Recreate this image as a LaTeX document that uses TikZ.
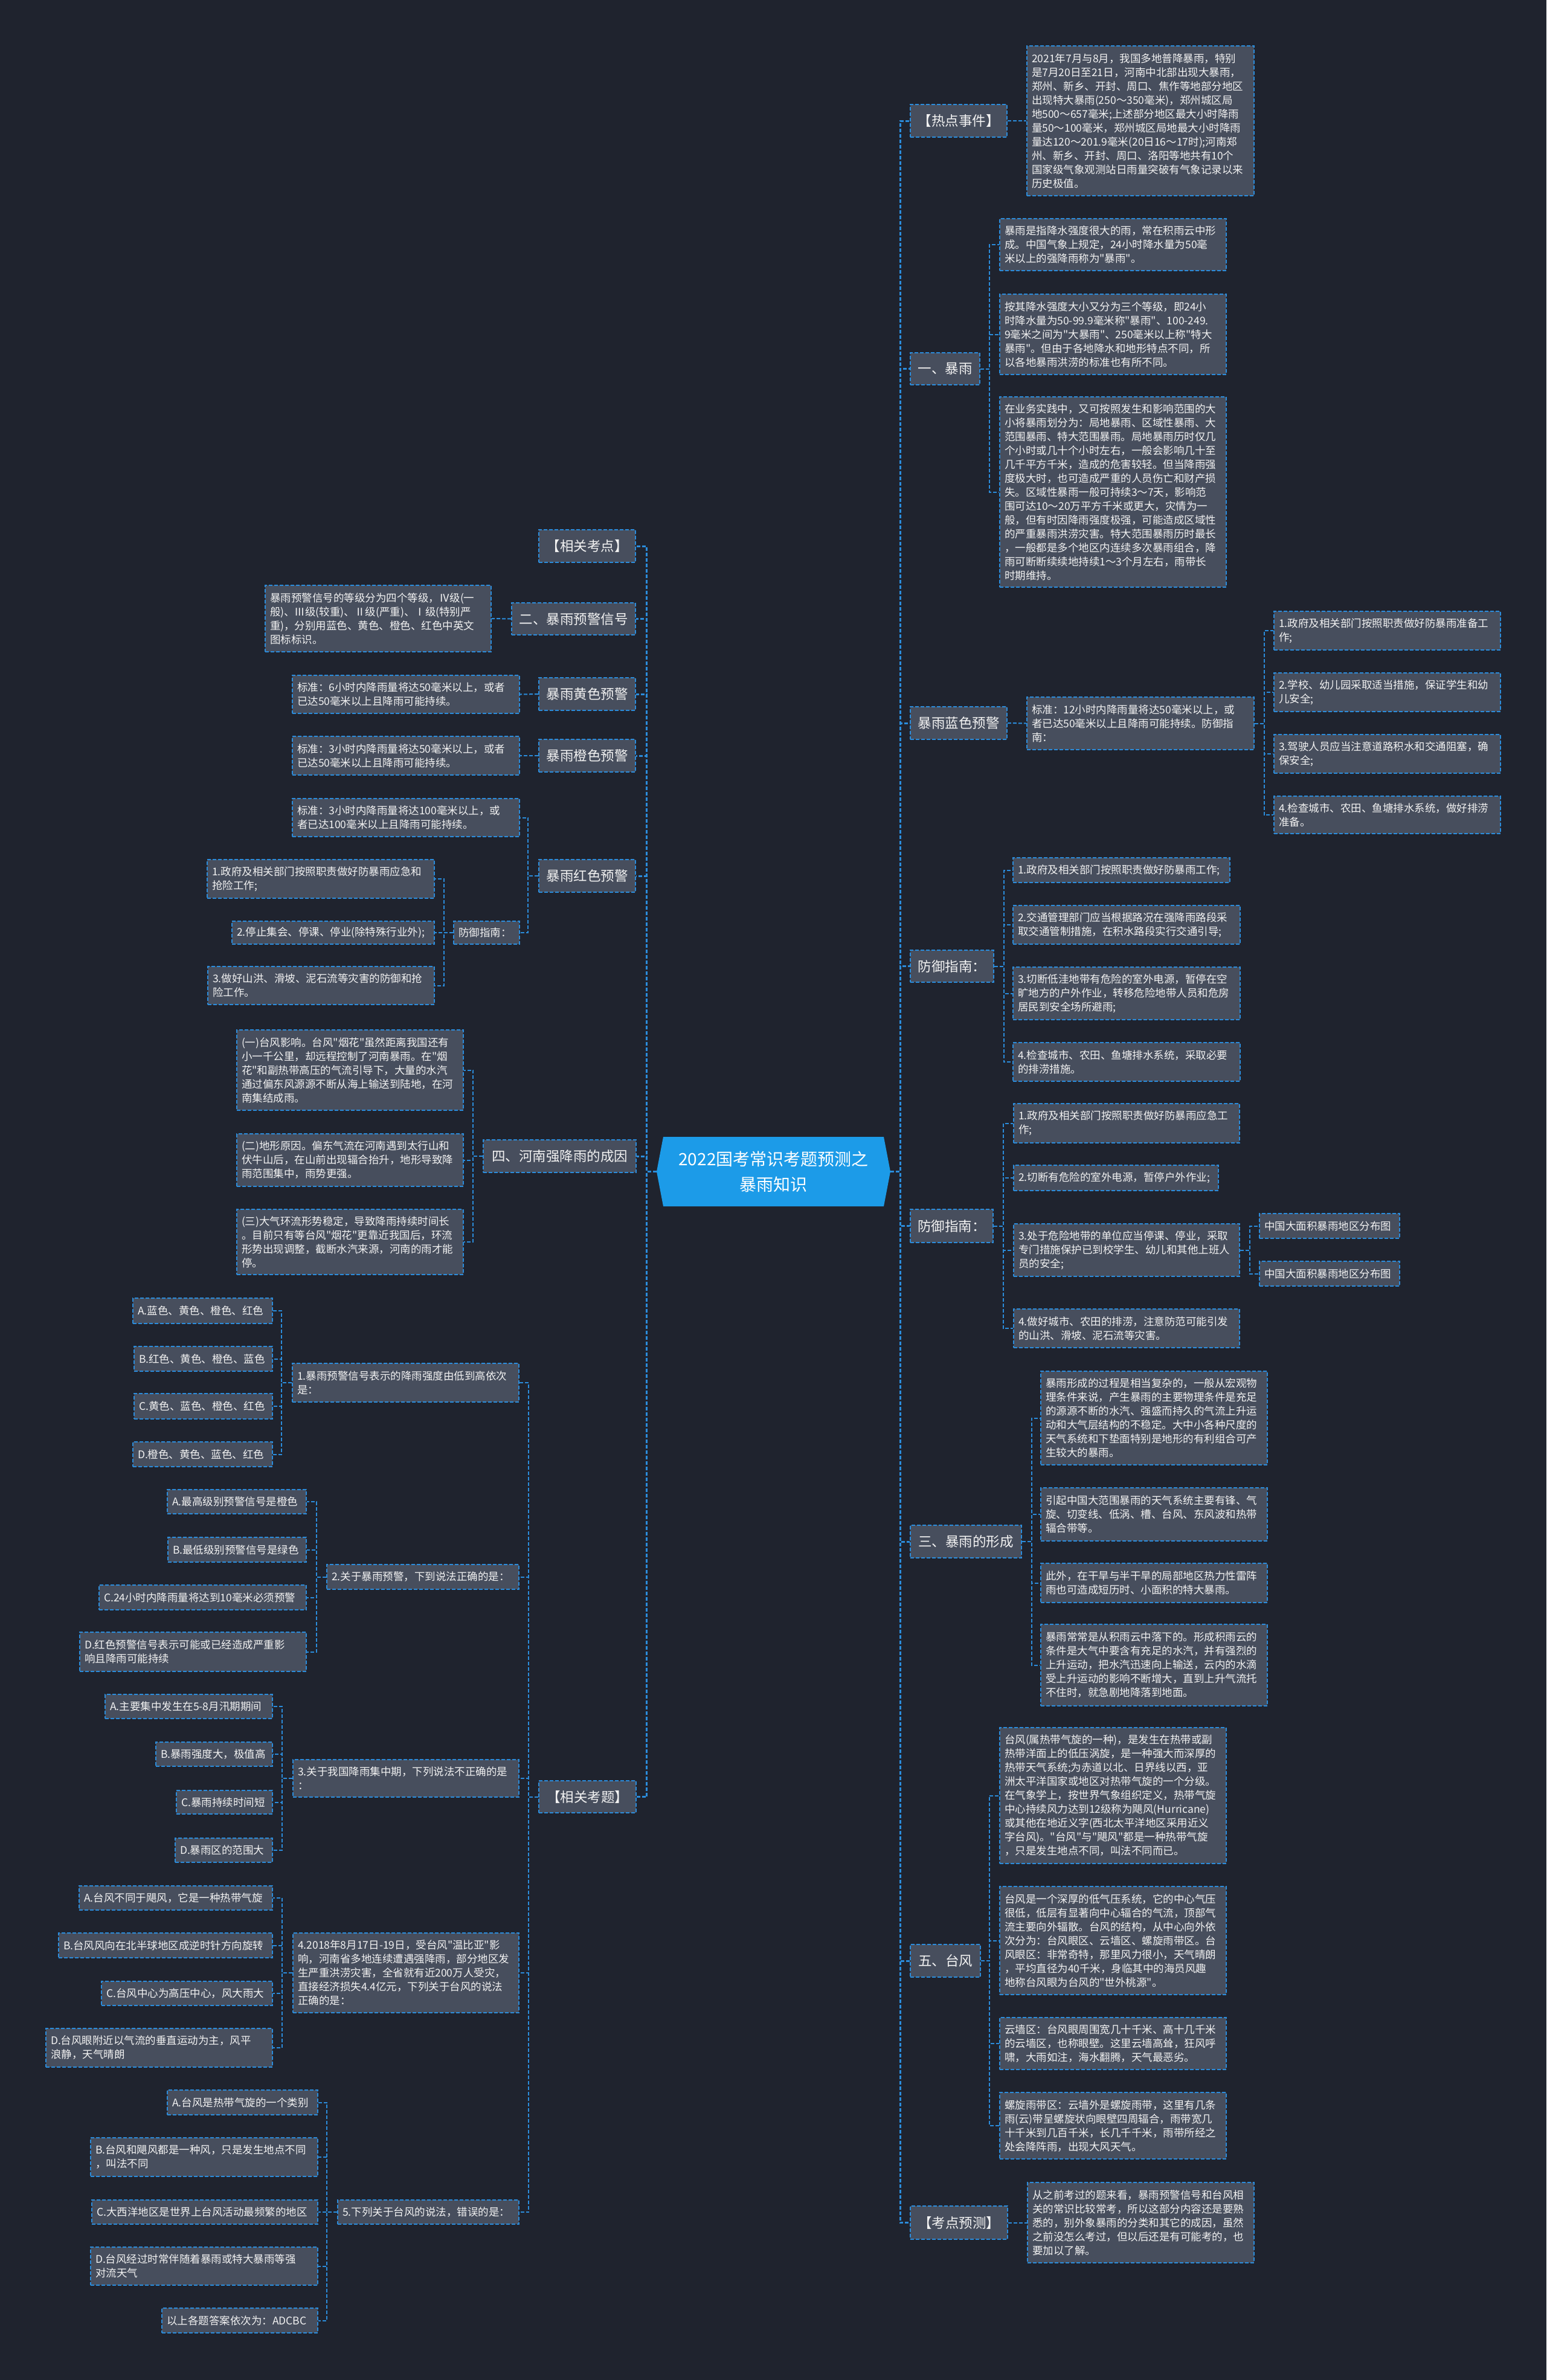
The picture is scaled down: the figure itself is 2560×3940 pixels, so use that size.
\documentclass[tikz,border=0pt]{standalone}
\usepackage{fontspec}
\newfontfamily\cjkf{Noto Sans CJK SC}
\definecolor{bgc}{HTML}{1F232E}
\definecolor{boxf}{HTML}{474E5D}
\definecolor{lineb}{HTML}{2B8CDB}
\definecolor{rootb}{HTML}{1C9BE8}
\definecolor{txt}{HTML}{F2F2F2}
\tikzset{
  boxbase/.style={fill=boxf, draw=lineb, line width=1.8pt, dash pattern=on 6pt off 3pt, text=txt, inner ysep=0pt, inner xsep=8pt, anchor=center},
  leaf/.style={boxbase, font=\cjkf\fontsize{17.5}{23}\selectfont, align=left},
  lone/.style={boxbase, font=\cjkf\fontsize{22.5}{28}\selectfont, align=center},
  conn/.style={draw=lineb, line width=2pt, dash pattern=on 6pt off 3pt},
  trunk/.style={conn, line width=3pt},
  rootstyle/.style={text=white, font=\cjkf\fontsize{28}{42}\selectfont, align=center, inner sep=0pt, minimum width=387pt, minimum height=115pt},
}
% style, name, x1, y1, x2, y2, text
\newcommand\bx[7]{%
  \pgfmathsetmacro\bxw{#5-#3}%
  \pgfmathsetmacro\bxh{#6-#4}%
  \pgfmathsetmacro\bxt{#5-#3-16}%
  \pgfmathsetmacro\bxcx{(#3+#5)/2}%
  \pgfmathsetmacro\bxcy{(#4+#6)/2}%
  \node[#1, minimum width=\bxw pt, minimum height=\bxh pt, text width=\bxt pt] (#2) at (\bxcx,\bxcy) {#7};}
\begin{document}
\begin{tikzpicture}[x=1pt,y=-1pt]
\useasboundingbox (0,0) rectangle (2560,3940);
\fill[bgc] (0,0) rectangle (2560,3940);

% root
\fill[rootb] (1098,1882) -- (1463,1882) -- (1474,1939.5) -- (1463,1997) -- (1098,1997) -- (1087,1939.5) -- cycle;
\node[rootstyle] (root) at (1280.5,1939.5) {2022国考常识考题预测之\\暴雨知识};

% ---------------- right side ----------------
\bx{lone}{hot}{1507}{173}{1667}{227}{【热点事件】}
\bx{leaf}{hott}{1700}{76}{2076}{324}{2021年7月与8月，我国多地普降暴雨，特别\\是7月20日至21日，河南中北部出现大暴雨，\\郑州、新乡、开封、周口、焦作等地部分地区\\出现特大暴雨(250～350毫米)，郑州城区局\\地500～657毫米;上述部分地区最大小时降雨\\量50～100毫米，郑州城区局地最大小时降雨\\量达120～201.9毫米(20日16～17时);河南郑\\州、新乡、开封、周口、洛阳等地共有10个\\国家级气象观测站日雨量突破有气象记录以来\\历史极值。}

\bx{lone}{by}{1507}{584}{1622}{637}{一、暴雨}
\bx{leaf}{by1}{1655}{362}{2030}{448}{暴雨是指降水强度很大的雨，常在积雨云中形\\成。中国气象上规定，24小时降水量为50毫\\米以上的强降雨称为"暴雨"。}
\bx{leaf}{by2}{1655}{487}{2030}{620}{按其降水强度大小又分为三个等级，即24小\\时降水量为50-99.9毫米称"暴雨"、100-249.\\9毫米之间为"大暴雨"、250毫米以上称"特大\\暴雨"。但由于各地降水和地形特点不同，所\\以各地暴雨洪涝的标准也有所不同。}
\bx{leaf}{by3}{1655}{657}{2030}{972}{在业务实践中，又可按照发生和影响范围的大\\小将暴雨划分为：局地暴雨、区域性暴雨、大\\范围暴雨、特大范围暴雨。局地暴雨历时仅几\\个小时或几十个小时左右，一般会影响几十至\\几千平方千米，造成的危害较轻。但当降雨强\\度极大时，也可造成严重的人员伤亡和财产损\\失。区域性暴雨一般可持续3～7天，影响范\\围可达10～20万平方千米或更大，灾情为一\\般，但有时因降雨强度极强，可能造成区域性\\的严重暴雨洪涝灾害。特大范围暴雨历时最长\\，一般都是多个地区内连续多次暴雨组合，降\\雨可断断续续地持续1～3个月左右，雨带长\\时期维持。}

\bx{lone}{blue}{1507}{1170}{1667}{1224}{暴雨蓝色预警}
\bx{leaf}{bluet}{1700}{1154}{2076}{1241}{标准：12小时内降雨量将达50毫米以上，或\\者已达50毫米以上且降雨可能持续。防御指\\南：}
\bx{leaf}{blue1}{2109}{1012}{2484}{1076}{1.政府及相关部门按照职责做好防暴雨准备工\\作;}
\bx{leaf}{blue2}{2109}{1114}{2484}{1178}{2.学校、幼儿园采取适当措施，保证学生和幼\\儿安全;}
\bx{leaf}{blue3}{2109}{1216}{2484}{1280}{3.驾驶人员应当注意道路积水和交通阻塞，确\\保安全;}
\bx{leaf}{blue4}{2109}{1318}{2484}{1380}{4.检查城市、农田、鱼塘排水系统，做好排涝\\准备。}

\bx{lone}{fya}{1507}{1573}{1645}{1626}{防御指南：}
\bx{leaf}{fya1}{1677}{1420}{2036}{1461}{1.政府及相关部门按照职责做好防暴雨工作;}
\bx{leaf}{fya2}{1677}{1499}{2053}{1563}{2.交通管理部门应当根据路况在强降雨路段采\\取交通管制措施，在积水路段实行交通引导;}
\bx{leaf}{fya3}{1677}{1601}{2053}{1688}{3.切断低洼地带有危险的室外电源，暂停在空\\旷地方的户外作业，转移危险地带人员和危房\\居民到安全场所避雨;}
\bx{leaf}{fya4}{1677}{1726}{2053}{1790}{4.检查城市、农田、鱼塘排水系统，采取必要\\的排涝措施。}

\bx{lone}{fyb}{1507}{2002}{1644}{2057}{防御指南：}
\bx{leaf}{fyb1}{1678}{1827}{2052}{1892}{1.政府及相关部门按照职责做好防暴雨应急工\\作;}
\bx{leaf}{fyb2}{1678}{1929}{2017}{1971}{2.切断有危险的室外电源，暂停户外作业;}
\bx{leaf}{fyb3}{1678}{2026}{2052}{2113}{3.处于危险地带的单位应当停课、停业，采取\\专门措施保护已到校学生、幼儿和其他上班人\\员的安全;}
\bx{leaf}{fyb3a}{2085}{2009}{2317}{2050}{中国大面积暴雨地区分布图}
\bx{leaf}{fyb3b}{2085}{2088}{2317}{2129}{中国大面积暴雨地区分布图}
\bx{leaf}{fyb4}{1678}{2167}{2052}{2231}{4.做好城市、农田的排涝，注意防范可能引发\\的山洪、滑坡、泥石流等灾害。}

\bx{lone}{xc}{1507}{2525}{1691}{2579}{三、暴雨的形成}
\bx{leaf}{xc1}{1723}{2270}{2098}{2425}{暴雨形成的过程是相当复杂的，一般从宏观物\\理条件来说，产生暴雨的主要物理条件是充足\\的源源不断的水汽、强盛而持久的气流上升运\\动和大气层结构的不稳定。大中小各种尺度的\\天气系统和下垫面特别是地形的有利组合可产\\生较大的暴雨。}
\bx{leaf}{xc2}{1723}{2463}{2098}{2551}{引起中国大范围暴雨的天气系统主要有锋、气\\旋、切变线、低涡、槽、台风、东风波和热带\\辐合带等。}
\bx{leaf}{xc3}{1723}{2588}{2098}{2653}{此外，在干旱与半干旱的局部地区热力性雷阵\\雨也可造成短历时、小面积的特大暴雨。}
\bx{leaf}{xc4}{1723}{2689}{2098}{2824}{暴雨常常是从积雨云中落下的。形成积雨云的\\条件是大气中要含有充足的水汽，并有强烈的\\上升运动，把水汽迅速向上输送，云内的水滴\\受上升运动的影响不断增大，直到上升气流托\\不住时，就急剧地降落到地面。}

\bx{lone}{tf}{1507}{3219}{1623}{3273}{五、台风}
\bx{leaf}{tf1}{1655}{2860}{2030}{3085}{台风(属热带气旋的一种)，是发生在热带或副\\热带洋面上的低压涡旋，是一种强大而深厚的\\热带天气系统;为赤道以北、日界线以西，亚\\洲太平洋国家或地区对热带气旋的一个分级。\\在气象学上，按世界气象组织定义，热带气旋\\中心持续风力达到12级称为飓风(Hurricane)\\或其他在地近义字(西北太平洋地区采用近义\\字台风)。"台风"与"飓风"都是一种热带气旋\\，只是发生地点不同，叫法不同而已。}
\bx{leaf}{tf2}{1655}{3123}{2030}{3302}{台风是一个深厚的低气压系统，它的中心气压\\很低，低层有显著向中心辐合的气流，顶部气\\流主要向外辐散。台风的结构，从中心向外依\\次分为：台风眼区、云墙区、螺旋雨带区。台\\风眼区：非常奇特，那里风力很小，天气晴朗\\，平均直径为40千米，身临其中的海员风趣\\地称台风眼为台风的"世外桃源"。}
\bx{leaf}{tf3}{1655}{3340}{2030}{3426}{云墙区：台风眼周围宽几十千米、高十几千米\\的云墙区，也称眼壁。这里云墙高耸，狂风呼\\啸，大雨如注，海水翻腾，天气最恶劣。}
\bx{leaf}{tf4}{1655}{3464}{2030}{3574}{螺旋雨带区：云墙外是螺旋雨带，这里有几条\\雨(云)带呈螺旋状向眼壁四周辐合，雨带宽几\\十千米到几百千米，长几千千米，雨带所经之\\处会降阵雨，出现大风天气。}

\bx{lone}{kd}{1507}{3652}{1668}{3707}{【考点预测】}
\bx{leaf}{kdt}{1701}{3613}{2076}{3746}{从之前考过的题来看，暴雨预警信号和台风相\\关的常识比较常考，所以这部分内容还是要熟\\悉的，别外象暴雨的分类和其它的成因，虽然\\之前没怎么考过，但以后还是有可能考的，也\\要加以了解。}

% ---------------- left side ----------------
\bx{lone}{kdl}{892}{877}{1052}{931}{【相关考点】}
\bx{lone}{yj}{847}{998}{1052}{1051}{二、暴雨预警信号}
\bx{leaf}{yjt}{439}{969}{813}{1079}{暴雨预警信号的等级分为四个等级，Ⅳ级(一\\般)、Ⅲ级(较重)、Ⅱ级(严重)、Ⅰ级(特别严\\重)，分别用蓝色、黄色、橙色、红色中英文\\图标标识。}
\bx{lone}{hs}{892}{1122}{1052}{1176}{暴雨黄色预警}
\bx{leaf}{hst}{484}{1118}{860}{1181}{标准：6小时内降雨量将达50毫米以上，或者\\已达50毫米以上且降雨可能持续。}
\bx{lone}{cs}{892}{1224}{1052}{1278}{暴雨橙色预警}
\bx{leaf}{cst}{484}{1219}{860}{1283}{标准：3小时内降雨量将达50毫米以上，或者\\已达50毫米以上且降雨可能持续。}
\bx{lone}{rs}{892}{1423}{1052}{1477}{暴雨红色预警}
\bx{leaf}{rs1}{484}{1322}{860}{1385}{标准：3小时内降雨量将达100毫米以上，或\\者已达100毫米以上且降雨可能持续。}
\bx{leaf}{rs2}{751}{1525}{860}{1563}{防御指南：}
\bx{leaf}{rs2a}{343}{1423}{719}{1487}{1.政府及相关部门按照职责做好防暴雨应急和\\抢险工作;}
\bx{leaf}{rs2b}{384}{1525}{719}{1563}{2.停止集会、停课、停业(除特殊行业外);}
\bx{leaf}{rs2c}{344}{1600}{719}{1663}{3.做好山洪、滑坡、泥石流等灾害的防御和抢\\险工作。}

\bx{lone}{hn}{800}{1887}{1053}{1941}{四、河南强降雨的成因}
\bx{leaf}{hn1}{392}{1705}{767}{1838}{(一)台风影响。台风"烟花"虽然距离我国还有\\小一千公里，却远程控制了河南暴雨。在"烟\\花"和副热带高压的气流引导下，大量的水汽\\通过偏东风源源不断从海上输送到陆地，在河\\南集结成雨。}
\bx{leaf}{hn2}{392}{1877}{767}{1964}{(二)地形原因。偏东气流在河南遇到太行山和\\伏牛山后，在山前出现辐合抬升，地形导致降\\雨范围集中，雨势更强。}
\bx{leaf}{hn3}{392}{2002}{767}{2110}{(三)大气环流形势稳定，导致降雨持续时间长\\。目前只有等台风"烟花"更靠近我国后，环流\\形势出现调整，截断水汽来源，河南的雨才能\\停。}

\bx{lone}{kt}{892}{2948}{1053}{3001}{【相关考题】}
\bx{leaf}{qa}{484}{2257}{859}{2321}{1.暴雨预警信号表示的降雨强度由低到高依次\\是：}
\bx{leaf}{qa1}{220}{2149}{451}{2191}{A.蓝色、黄色、橙色、红色}
\bx{leaf}{qa2}{222}{2229}{451}{2270}{B.红色、黄色、橙色、蓝色}
\bx{leaf}{qa3}{222}{2307}{451}{2349}{C.黄色、蓝色、橙色、红色}
\bx{leaf}{qa4}{220}{2387}{451}{2428}{D.橙色、黄色、蓝色、红色}
\bx{leaf}{qb}{541}{2590}{859}{2631}{2.关于暴雨预警，下到说法正确的是：}
\bx{leaf}{qb1}{277}{2466}{507}{2506}{A.最高级别预警信号是橙色}
\bx{leaf}{qb2}{278}{2545}{507}{2586}{B.最低级别预警信号是绿色}
\bx{leaf}{qb3}{164}{2624}{507}{2665}{C.24小时内降雨量将达到10毫米必须预警}
\bx{leaf}{qb4}{132}{2702}{507}{2767}{D.红色预警信号表示可能或已经造成严重影\\响且降雨可能持续}
\bx{leaf}{qc}{485}{2913}{859}{2975}{3.关于我国降雨集中期，下列说法不正确的是\\：}
\bx{leaf}{qc1}{174}{2805}{451}{2845}{A.主要集中发生在5-8月汛期期间}
\bx{leaf}{qc2}{258}{2884}{451}{2924}{B.暴雨强度大，极值高}
\bx{leaf}{qc3}{292}{2964}{451}{3003}{C.暴雨持续时间短}
\bx{leaf}{qc4}{290}{3043}{451}{3083}{D.暴雨区的范围大}
\bx{leaf}{qd}{485}{3200}{859}{3332}{4.2018年8月17日-19日，受台风"温比亚"影\\响，河南省多地连续遭遇强降雨，部分地区发\\生严重洪涝灾害，全省就有近200万人受灾，\\直接经济损失4.4亿元，下列关于台风的说法\\正确的是：}
\bx{leaf}{qd1}{131}{3122}{451}{3162}{A.台风不同于飓风，它是一种热带气旋}
\bx{leaf}{qd2}{97}{3200}{451}{3241}{B.台风风向在北半球地区成逆时针方向旋转}
\bx{leaf}{qd3}{168}{3280}{451}{3320}{C.台风中心为高压中心，风大雨大}
\bx{leaf}{qd4}{76}{3358}{451}{3422}{D.台风眼附近以气流的垂直运动为主，风平\\浪静，天气晴朗}
\bx{leaf}{qe}{559}{3642}{859}{3682}{5.下列关于台风的说法，错误的是：}
\bx{leaf}{qe1}{277}{3460}{526}{3501}{A.台风是热带气旋的一个类别}
\bx{leaf}{qe2}{150}{3539}{526}{3603}{B.台风和飓风都是一种风，只是发生地点不同\\，叫法不同}
\bx{leaf}{qe3}{152}{3642}{526}{3682}{C.大西洋地区是世界上台风活动最频繁的地区}
\bx{leaf}{qe4}{150}{3720}{526}{3783}{D.台风经过时常伴随着暴雨或特大暴雨等强\\对流天气}
\bx{leaf}{qe5}{268}{3821}{526}{3862}{以上各题答案依次为：ADCBC}

% ---------------- connectors ----------------
\foreach \n in {hot,by,blue,fya,fyb,xc,tf,kd}
  \draw[trunk] (root.east) -- ++(16,0) |- (\n.west);
\foreach \n in {kdl,yj,hs,cs,rs,hn,kt}
  \draw[trunk] (root.west) -- ++(-16,0) |- (\n.east);

\draw[conn] (hot.east) -- (hott.west);
\draw[conn] (kd.east) -- (kdt.west);
\draw[conn] (blue.east) -- (bluet.west);
\foreach \c in {by1,by2,by3} \draw[conn] (by.east) -- ++(15,0) |- (\c.west);
\foreach \c in {blue1,blue2,blue3,blue4} \draw[conn] (bluet.east) -- ++(16,0) |- (\c.west);
\foreach \c in {fya1,fya2,fya3,fya4} \draw[conn] (fya.east) -- ++(16,0) |- (\c.west);
\foreach \c in {fyb1,fyb2,fyb3,fyb4} \draw[conn] (fyb.east) -- ++(16,0) |- (\c.west);
\foreach \c in {fyb3a,fyb3b} \draw[conn] (fyb3.east) -- ++(16,0) |- (\c.west);
\foreach \c in {xc1,xc2,xc3,xc4} \draw[conn] (xc.east) -- ++(16,0) |- (\c.west);
\foreach \c in {tf1,tf2,tf3,tf4} \draw[conn] (tf.east) -- ++(14,0) |- (\c.west);

\draw[conn] (yj.west) -- (yjt.east);
\draw[conn] (hs.west) -- (hst.east);
\draw[conn] (cs.west) -- (cst.east);
\foreach \c in {rs1,rs2} \draw[conn] (rs.west) -- ++(-17,0) |- (\c.east);
\foreach \c in {rs2a,rs2b,rs2c} \draw[conn] (rs2.west) -- ++(-15,0) |- (\c.east);
\foreach \c in {hn1,hn2,hn3} \draw[conn] (hn.west) -- ++(-16,0) |- (\c.east);
\foreach \c in {qa,qb,qc,qd,qe} \draw[conn] (kt.west) -- ++(-16,0) |- (\c.east);
\foreach \c in {qa1,qa2,qa3,qa4} \draw[conn] (qa.west) -- ++(-17,0) |- (\c.east);
\foreach \c in {qb1,qb2,qb3,qb4} \draw[conn] (qb.west) -- ++(-16,0) |- (\c.east);
\foreach \c in {qc1,qc2,qc3,qc4} \draw[conn] (qc.west) -- ++(-17,0) |- (\c.east);
\foreach \c in {qd1,qd2,qd3,qd4} \draw[conn] (qd.west) -- ++(-17,0) |- (\c.east);
\foreach \c in {qe1,qe2,qe3,qe4,qe5} \draw[conn] (qe.west) -- ++(-17,0) |- (\c.east);
\end{tikzpicture}
\end{document}
